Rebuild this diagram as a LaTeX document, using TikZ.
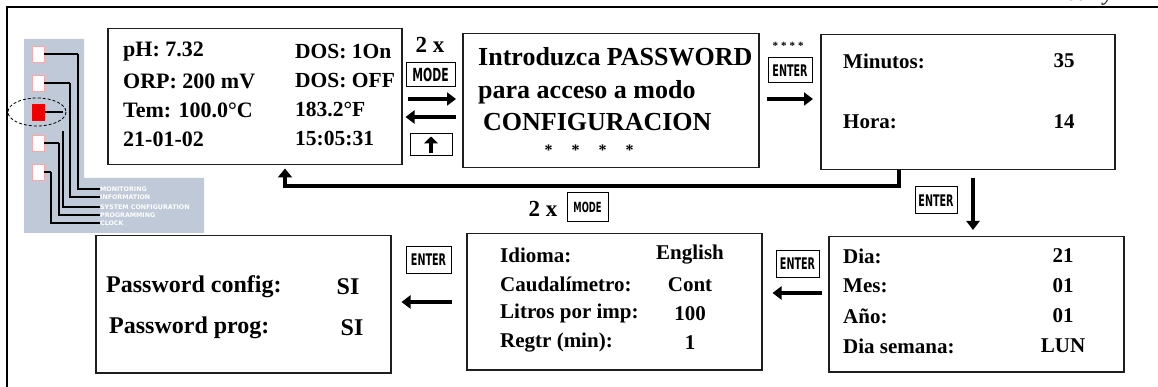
\documentclass[tikz,border=0pt]{standalone}
\usepackage{graphicx}
\usepackage{fontspec}
\setmainfont{Liberation Serif}
\newfontfamily\keyfont{DejaVu Sans}
\usetikzlibrary{arrows.meta}

\definecolor{panelgray}{RGB}{192,201,215}
\definecolor{ledred}{RGB}{236,0,0}
\definecolor{frameink}{RGB}{30,30,30}

\newcommand\keylbl[2]{\scalebox{0.6}[1]{\fontsize{#1}{#1}\selectfont\keyfont\bfseries #2}}

\tikzset{
  lcd/.style={draw=frameink, line width=1.5pt, inner sep=0pt, anchor=north west},
  lcdtext/.style={inner sep=0pt, anchor=west, font=\bfseries\fontsize{#1}{#1}\selectfont},
  lcdtext/.default=21,
  lcdval/.style={lcdtext=#1, anchor=center},
  lcdval/.default=21,
  keycap/.style={draw, line width=1pt, inner sep=0pt, fill=white},
  twox/.style={inner sep=0pt, font=\bfseries\fontsize{23}{23}\selectfont},
  led/.style={draw=red!35, line width=0.6pt, fill=white, inner sep=0pt,
    minimum width=12pt, minimum height=16pt},
  menutxt/.style={inner sep=0pt, anchor=west, text=white,
    font=\keyfont\bfseries\fontsize{6.3}{6.3}\selectfont},
  wire/.style={line width=1.6pt},
  flow/.style={line width=4pt, -{Triangle[length=9pt,width=13pt]}},
  ret/.style={line width=4.5pt, -{Triangle[length=9pt,width=14pt]}}
}

\begin{document}
\begin{tikzpicture}[x=1pt,y=-1pt]
  \useasboundingbox (0,0) rectangle (1158,387);
  \draw[line width=2pt] (1158,7) -- (7,7) -- (7,387);
  \node[anchor=base, inner sep=0pt, font=\itshape\fontsize{22}{22}\selectfont] (hourly) at (1082,1) {Hourly};

  % button panel
  \fill[panelgray] (24,39) -- (84,39) -- (84,178) -- (204,178) -- (204,233) -- (24,233) -- cycle;
  \foreach \y/\ys/\x/\yy/\lab [count=\i] in {54/54/78/189/MONITORING, 83/83/70/197/INFORMATION,
      112/131/63/207/SYSTEM CONFIGURATION, 143/143/59/215/PROGRAMMING, 172/172/51/223/CLOCK} {
    \node[led] (led\i) at (38,\y) {};
    \node[menutxt] (menu\i) at (100,\yy) {\lab};
    \draw[wire] (led\i.east) -- (\x,\y);
    \draw[wire] (\x,\ys) |- (menu\i.west);
  }
  \node[led, draw=red, fill=ledred] (ledsel) at (led3) {};
  \draw[densely dashed, line width=0.8pt] (37,112) ellipse [x radius=29, y radius=14];

  % displays
  \node[lcd, minimum width=294pt, minimum height=136pt] (status) at (107,28) {};
  \node[lcd, minimum width=296pt, minimum height=134pt] (password) at (462,33) {};
  \node[lcd, minimum width=294pt, minimum height=135pt] (clock) at (820,34) {};
  \node[lcd, minimum width=295pt, minimum height=135pt] (date) at (828,236) {};
  \node[lcd, minimum width=295pt, minimum height=136pt] (options) at (466,233) {};
  \node[lcd, minimum width=295pt, minimum height=137pt] (access) at (95,235) {};

  \foreach \l/\r [count=\i from 0] in {pH: 7.32/DOS: 1On, ORP: 200 mV/DOS: OFF,
      Tem: 100.0°C/183.2°F, 21-01-02/15:05:31} {
    \node[lcdtext=22] (statusl\i) at (123,52+29*\i) {\l};
    \node[lcdtext=21.5] (statusr\i) at (295,52+29*\i) {\r};
  }

  \node[lcdtext=26] (pw1) at (478,57) {Introduzca PASSWORD};
  \node[lcdtext=26] (pw2) at (478,92) {para acceso a modo};
  \node[lcdtext=26] (pw3) at (483,122) {CONFIGURACION};
  \node[inner sep=0pt, font=\bfseries\fontsize{16}{16}\selectfont] (pwstars) at (589,150)
    {*\hspace{19pt}*\hspace{19pt}*\hspace{19pt}*};

  \node[lcdtext] (minlab) at (843,61) {Minutos:};
  \node[lcdval] (minval) at (1064,61) {35};
  \node[lcdtext] (horlab) at (843,122) {Hora:};
  \node[lcdval] (horval) at (1064,122) {14};

  \foreach \l/\r [count=\i from 0] in {Dia:/21, Mes:/01, Año:/01, Dia semana:/LUN} {
    \node[lcdtext] (datel\i) at (843,256+30*\i) {\l};
    \node[lcdval] (dater\i) at (1063,256+30*\i) {\r};
  }

  \foreach \l/\r [count=\i from 0] in {Idioma:/English, Caudalímetro:/Cont,
      Litros por imp:/100, Regtr (min):/1} {
    \node[lcdtext] (optl\i) at (500,255+29.3*\i) {\l};
    \node[lcdval] (optr\i) at (690,255+29.3*\i) {\r};
  }

  \node[lcdtext=24] (acc1) at (106,287) {Password config:};
  \node[lcdval=24] (accv1) at (348,287) {SI};
  \node[lcdtext=24] (acc2) at (109,328) {Password prog:};
  \node[lcdval=24] (accv2) at (352,328) {SI};

  % keys
  \node[twox] (twox1) at (430,45) {2 x};
  \node[keycap, minimum width=49pt, minimum height=24pt] (mode1) at (430.5,75) {\keylbl{18}{MODE}};
  \node[keycap, minimum width=42pt, minimum height=22pt] (upkey) at (431,145) {};
  \draw[line width=4pt, -{Triangle[length=7pt,width=14pt]}]
    ([yshift=3pt]upkey.south) -- ([yshift=-3pt]upkey.north);
  \node[inner sep=0pt, font=\bfseries\fontsize{11}{11}\selectfont] (enterstars) at (788,46)
    {*\hspace{3pt}*\hspace{3pt}*\hspace{3pt}*};
  \node[keycap, minimum width=44pt, minimum height=25pt] (enter1) at (790,70.5) {\keylbl{16}{ENTER}};
  \node[keycap, minimum width=42pt, minimum height=27pt] (enter2) at (936,200.5) {\keylbl{16}{ENTER}};
  \node[keycap, minimum width=43pt, minimum height=27pt] (enter3) at (797.5,263.5) {\keylbl{16}{ENTER}};
  \node[keycap, minimum width=45pt, minimum height=26pt] (enter4) at (428.5,260) {\keylbl{16}{ENTER}};
  \node[twox] (twox2) at (543,209) {2 x};
  \node[keycap, minimum width=41pt, minimum height=29pt] (mode2) at (587.5,207.5) {\keylbl{14}{MODE}};

  % arrows
  \draw[flow, shorten <=5pt, shorten >=6pt] (status.east |- 0,99) -- (password.west |- 0,99);
  \draw[flow, shorten <=6pt, shorten >=3pt] (password.west |- 0,117) -- (status.east |- 0,117);
  \draw[flow, shorten <=7pt, shorten >=7pt] (password.east |- 0,99) -- (clock.west |- 0,99);
  \draw[ret, shorten >=3pt] (clock.south -| 899,0) |- (285,186) -- (status.south -| 285,0);
  \draw[flow, shorten <=8pt, shorten >=6pt] (clock.south -| 973,0) -- (date.north -| 973,0);
  \draw[flow, shorten <=6pt, shorten >=10pt] (date.west |- 0,293) -- (options.east |- 0,293);
  \draw[flow, shorten <=14pt, shorten >=10pt] (options.west |- 0,302) -- (access.east |- 0,302);
\end{tikzpicture}
\end{document}
